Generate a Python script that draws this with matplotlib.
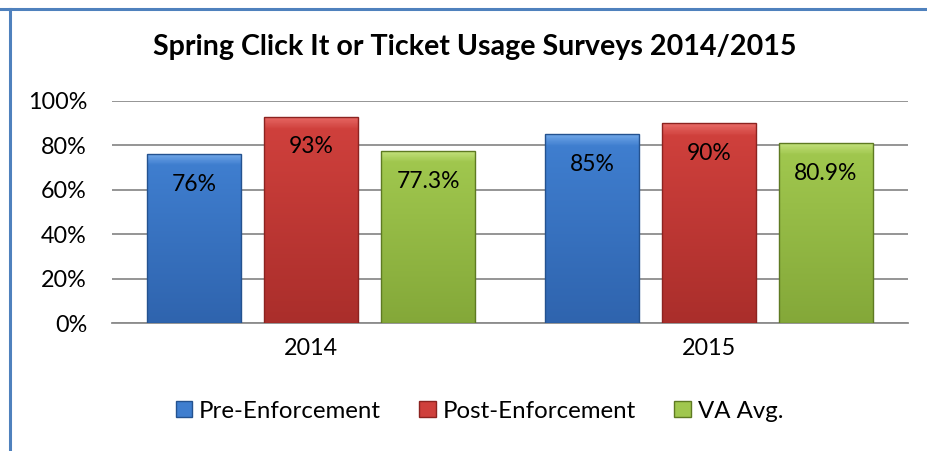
import numpy as np
import matplotlib
matplotlib.use("Agg")
import matplotlib.pyplot as plt
from matplotlib.colors import LinearSegmentedColormap
from matplotlib.lines import Line2D
from matplotlib.patches import Patch

plt.rcParams['font.family'] = ['Lato', 'DejaVu Sans']

categories = ["2014", "2015"]
series_names = ["Pre-Enforcement", "Post-Enforcement", "VA Avg."]
pre = [76, 85]
post = [93, 90]
va_avg = [77.3, 80.9]
labels_pre = ["76%", "85%"]
labels_post = ["93%", "90%"]
labels_va = ["77.3%", "80.9%"]
yticks = [0, 20, 40, 60, 80, 100]
ytick_labels = ["0%", "20%", "40%", "60%", "80%", "100%"]

colors = [("#6FA6E8", "#3F7ECF", "#2F64AE"),
          ("#E86A66", "#CF403C", "#AA2E2B"),
          ("#C2E07A", "#A0C74E", "#84A839")]
edges = ["#24528F", "#8C2320", "#5E7A22"]

fig = plt.figure(figsize=(9.27, 4.51), dpi=100)
ax = fig.add_axes([112/927, 1-323/451, (908-112)/927, (323-101)/451])

x = np.arange(len(categories))
width = 0.236
offset = 0.294
all_series = [pre, post, va_avg]
all_labels = [labels_pre, labels_post, labels_va]

for i, (vals, labs) in enumerate(zip(all_series, all_labels)):
    bars = ax.bar(x + (i - 1) * offset, vals, width, color=colors[i][1],
                  edgecolor=edges[i], linewidth=1.0, zorder=3, label=series_names[i])
    cmap = LinearSegmentedColormap.from_list(
        "g%d" % i, [(0, colors[i][0]), (0.06, colors[i][1]), (1, colors[i][2])])
    for b, lab in zip(bars, labs):
        x0, w, h = b.get_x(), b.get_width(), b.get_height()
        grad = np.linspace(0, 1, 200).reshape(-1, 1)
        im = ax.imshow(grad, extent=[x0, x0 + w, 0, h], aspect='auto', cmap=cmap,
                       zorder=3.5, origin='upper', vmin=0, vmax=1)
        im.set_clip_path(b)
        b.set_facecolor('none')
        b.set_zorder(4)
        ax.annotate(lab, (x0 + w / 2, h), xytext=(0, -21.5), textcoords='offset points',
                    ha='center', va='center', fontsize=16.5, color='black', zorder=5)

ax.set_xlim(-0.5, 1.5)
ax.set_ylim(0, 100)
ax.set_yticks(yticks)
ax.set_yticklabels(ytick_labels, fontsize=16.8)
ax.set_xticks(x)
ax.set_xticklabels(categories, fontsize=16.8)
ax.tick_params(axis='both', length=0)
ax.tick_params(axis='y', pad=18)
ax.tick_params(axis='x', pad=11)
ax.grid(axis='y', color='#8C8C8C', linewidth=1.3, zorder=0)
for s in ['top', 'right', 'left']:
    ax.spines[s].set_visible(False)
ax.spines['bottom'].set_color('#8C8C8C')
ax.spines['bottom'].set_linewidth(1.3)
ax.set_axisbelow(True)

fig.text(0.512, 1 - 47/451, "Spring Click It or Ticket Usage Surveys 2014/2015",
         ha='center', va='center', fontsize=20.6, fontweight='bold')

handles = [Patch(facecolor=colors[i][1], edgecolor=edges[i]) for i in range(3)]
fig.legend(handles, series_names, loc='center', bbox_to_anchor=(479.5/927, 1 - 411/451),
           ncol=3, frameon=False, fontsize=17.3, handlelength=0.67, handleheight=0.67,
           handletextpad=0.3, columnspacing=1.6)

fig.add_artist(Line2D([0, 1], [1 - 8.5/451] * 2, color='#4F81BD', linewidth=2.2,
                      transform=fig.transFigure))
fig.add_artist(Line2D([9.5/927] * 2, [0, 1 - 8.5/451], color='#4F81BD', linewidth=2.2,
                      transform=fig.transFigure))

fig.savefig("out.png", dpi=100)
